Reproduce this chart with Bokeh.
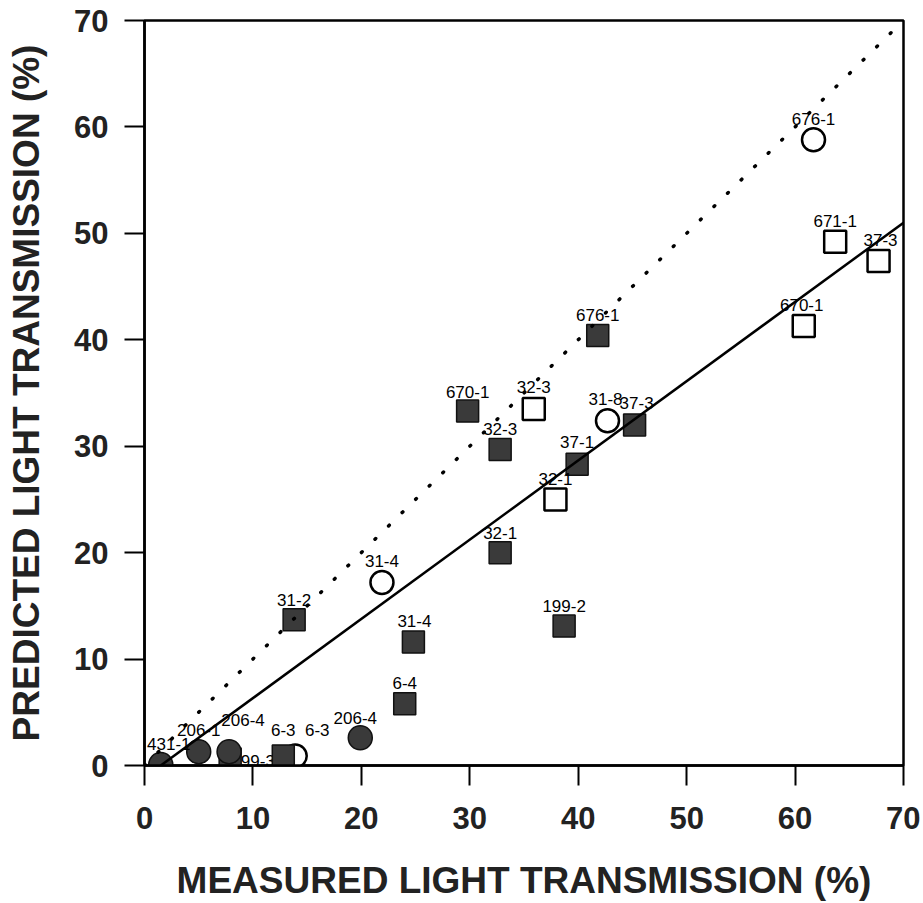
from bokeh.plotting import figure
from bokeh.models import ColumnDataSource, Label, Range1d, FixedTicker
from bokeh.embed import file_html
from bokeh.resources import INLINE

# ---- data ----
# open circles
oc_name = ["676-1", "31-8", "31-4", "6-3"]
oc_x = [61.7, 42.7, 21.9, 13.9]
oc_y = [58.8, 32.4, 17.2, 0.9]
# filled circles
fc_name = ["431-1", "206-1", "206-4", "206-4"]
fc_x = [1.5, 5.0, 7.8, 19.9]
fc_y = [0.1, 1.3, 1.3, 2.6]
# open squares
os_name = ["671-1", "37-3", "670-1", "32-3", "32-1"]
os_x = [63.7, 67.7, 60.8, 35.9, 37.9]
os_y = [49.2, 47.4, 41.3, 33.5, 25.0]
# filled squares
fs_name = ["676-1", "670-1", "32-3", "37-3", "37-1", "32-1", "199-2", "31-2", "31-4", "6-4", "6-3", "199-3"]
fs_x = [41.8, 29.8, 32.8, 45.2, 39.9, 32.8, 38.7, 13.8, 24.8, 24.0, 12.8, 7.9]
fs_y = [40.4, 33.3, 29.7, 32.0, 28.3, 20.0, 13.1, 13.7, 11.6, 5.8, 0.9, 0.6]

# reference lines
identity_x = [0, 70]
identity_y = [0, 70]
fit_x = [1.5, 70]
fit_y = [0.0, 51.0]

ticks = [0, 10, 20, 30, 40, 50, 60, 70]

# label offsets (screen px)
oc_dx = [0, -2, 0, 22]
oc_dy = [21, 22, 21, 26]
fc_dx = [8, 0, 14, -5]
fc_dy = [20, 22, 32, 20]
os_dx = [0, 2, -2, 0, 0]
os_dy = [21, 21, 21, 22, 20]
fs_dx = [0, 0, 0, 2, 0, 0, 0, 0, 1, 0, 0, 23]
fs_dy = [21, 19, 20, 22, 22, 20, 20, 20, 21, 21, 26, -2]

FONT = "Liberation Sans"
FILL = "#3a3a3a"

p = figure(width=920, height=903, output_backend="svg", toolbar_location=None,
           x_range=Range1d(0, 70), y_range=Range1d(0, 70),
           min_border_left=144, min_border_right=17, min_border_top=20, min_border_bottom=137)
p.xgrid.visible = False
p.ygrid.visible = False
p.outline_line_color = "black"
p.outline_line_width = 2.5
p.background_fill_color = "white"
p.border_fill_color = "white"

for ax in (p.xaxis[0], p.yaxis[0]):
    ax.ticker = FixedTicker(ticks=ticks)
    ax.minor_tick_line_color = None
    ax.major_tick_in = 0
    ax.major_tick_out = 20
    ax.major_tick_line_width = 2
    ax.major_tick_line_color = "black"
    ax.axis_line_width = 2.5
    ax.axis_line_color = "black"
    ax.major_label_text_font = FONT
    ax.major_label_text_font_style = "bold"
    ax.major_label_text_font_size = "31px"
    ax.major_label_text_color = "#222222"
    ax.axis_label_text_font = FONT
    ax.axis_label_text_font_style = "bold"
    ax.axis_label_text_font_size = "37px"
    ax.axis_label_text_color = "#222222"

p.xaxis.axis_label = "MEASURED LIGHT TRANSMISSION (%)"
p.yaxis.axis_label = "PREDICTED LIGHT TRANSMISSION (%)"
p.xaxis.major_label_standoff = 21
p.yaxis.major_label_standoff = 16
p.xaxis.axis_label_standoff = 28
p.yaxis.axis_label_standoff = 24

src_oc = ColumnDataSource(dict(x=oc_x, y=oc_y))
src_fc = ColumnDataSource(dict(x=fc_x, y=fc_y))
src_os = ColumnDataSource(dict(x=os_x, y=os_y))
src_fs = ColumnDataSource(dict(x=fs_x, y=fs_y))

# point labels: filled-square labels sit beneath the markers (as "199-3" does)
for names, xs, ys, dxs, dys, lvl in (
        (fs_name, fs_x, fs_y, fs_dx, fs_dy, "underlay"),
        (oc_name, oc_x, oc_y, oc_dx, oc_dy, "annotation"),
        (fc_name, fc_x, fc_y, fc_dx, fc_dy, "annotation"),
        (os_name, os_x, os_y, os_dx, os_dy, "annotation")):
    for n, xv, yv, dx, dy in zip(names, xs, ys, dxs, dys):
        p.add_layout(Label(x=xv, y=yv, text=n, x_offset=dx, y_offset=dy,
                           text_align="center", text_baseline="middle", text_font=FONT,
                           text_font_size="17px", text_color="black", level=lvl))

p.scatter("x", "y", source=src_oc, marker="circle", size=23, fill_color="white",
          line_color="black", line_width=2.5)
p.scatter("x", "y", source=src_os, marker="square", size=22, fill_color="white",
          line_color="black", line_width=2.5)
p.scatter("x", "y", source=src_fs, marker="square", size=22, fill_color=FILL,
          line_color="#111111", line_width=1.5)
p.scatter("x", "y", source=src_fc, marker="circle", size=24, fill_color=FILL,
          line_color="#111111", line_width=1.5)

p.line(identity_x, identity_y, line_color="black", line_width=3.5, line_dash="1 18",
       line_cap="round")
p.line(fit_x, fit_y, line_color="black", line_width=2.5)

open("out.html", "w").write(file_html(p, INLINE))
